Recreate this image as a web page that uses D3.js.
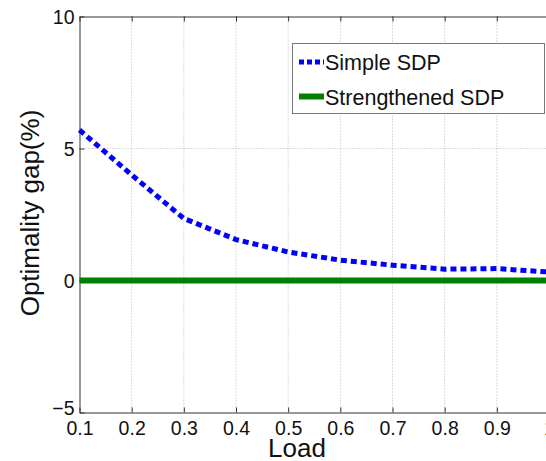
<!DOCTYPE html>
<html>
<head>
<meta charset="utf-8">
<script src="https://cdn.jsdelivr.net/npm/d3@7"></script>
<style>
  html, body { margin: 0; padding: 0; background: #fff; }
  svg { display: block; font-family: "Liberation Sans", Arial, Helvetica, sans-serif; }
</style>
</head>
<body>
<svg id="chart" width="546" height="461"></svg>
<script>
// Load levels and optimality gap (%) for each relaxation
const loads = [0.1, 0.2, 0.3, 0.4, 0.5, 0.6, 0.7, 0.8, 0.9, 1.0];
const simpleSDP = [5.7, 4.0, 2.35, 1.55, 1.08, 0.77, 0.58, 0.43, 0.45, 0.32];
const strengthenedSDP = [0, 0, 0, 0, 0, 0, 0, 0, 0, 0];
const xTicks = [0.1, 0.2, 0.3, 0.4, 0.5, 0.6, 0.7, 0.8, 0.9, 1.0];
const yTicks = [-5, 0, 5, 10];
const seriesNames = ["Simple SDP", "Strengthened SDP"];

const svg = d3.select("#chart");
const margin = { left: 79.5, top: 16.5, right: 549, bottom: 412.5 };

const x = d3.scaleLinear().domain([0.1, 1.0]).range([margin.left, margin.right]);
const y = d3.scaleLinear().domain([-5, 10]).range([margin.bottom, margin.top]);

// dotted grid
const grid = svg.append("g");
grid.selectAll("line.vx").data(xTicks.filter(t => t > 0.1 && t < 1.0)).enter()
  .append("line")
  .attr("x1", d => x(d)).attr("x2", d => x(d))
  .attr("y1", margin.top).attr("y2", margin.bottom)
  .attr("stroke", "#b8b8b8").attr("stroke-width", 1).attr("stroke-dasharray", "1,2");
grid.selectAll("line.hy").data(yTicks.filter(t => t > -5 && t < 10)).enter()
  .append("line")
  .attr("x1", margin.left).attr("x2", margin.right)
  .attr("y1", d => y(d)).attr("y2", d => y(d))
  .attr("stroke", "#b8b8b8").attr("stroke-width", 1).attr("stroke-dasharray", "1,2");

// axes frame with inward ticks
const axisColor = "#333";
const xb = svg.append("g").attr("transform", `translate(0,${margin.bottom})`)
  .call(d3.axisBottom(x).tickValues(xTicks).tickSizeInner(-5).tickSizeOuter(0)
    .tickFormat(d => d === 1 ? "1" : d3.format(".1f")(d)));
const xt = svg.append("g").attr("transform", `translate(0,${margin.top})`)
  .call(d3.axisTop(x).tickValues(xTicks).tickSizeInner(-5).tickSizeOuter(0).tickFormat(""));
const yl = svg.append("g").attr("transform", `translate(${margin.left},0)`)
  .call(d3.axisLeft(y).tickValues(yTicks).tickSizeInner(-5).tickSizeOuter(0).tickPadding(5));
[xb, xt, yl].forEach(g => {
  g.select(".domain").attr("stroke", axisColor).attr("stroke-width", 1);
  g.selectAll(".tick line").attr("stroke", axisColor);
  g.selectAll(".tick text").attr("fill", "#111").attr("font-size", 19.5)
    .attr("font-family", "Liberation Sans, Arial, sans-serif");
});
xb.selectAll(".tick text").attr("y", 22).attr("dy", 0);
yl.selectAll(".tick text").attr("dy", "0.35em");
yl.selectAll(".tick text").filter(d => d === -5).attr("dy", "0.1em");

// series lines
const line = d3.line().x((d, i) => x(loads[i])).y(d => y(d));
svg.append("path").datum(strengthenedSDP)
  .attr("d", line).attr("fill", "none")
  .attr("stroke", "#008000").attr("stroke-width", 6);
svg.append("path").datum(simpleSDP)
  .attr("d", line).attr("fill", "none")
  .attr("stroke", "#0000ff").attr("stroke-width", 5)
  .attr("stroke-dasharray", "6,4");

// axis labels
svg.append("text").attr("x", 297).attr("y", 456.5)
  .attr("text-anchor", "middle").attr("font-size", 26).attr("fill", "#111").text("Load");
svg.append("text")
  .attr("transform", `translate(39,213) rotate(-90)`)
  .attr("text-anchor", "middle").attr("font-size", 26).attr("fill", "#111")
  .text("Optimality gap(%)");

// legend
const lg = svg.append("g");
lg.append("rect").attr("x", 292.5).attr("y", 43.5).attr("width", 252).attr("height", 70)
  .attr("fill", "#fff").attr("stroke", "#777").attr("stroke-width", 1);
const legendStyles = [
  { color: "#0000ff", width: 5, dash: "5,3" },
  { color: "#008000", width: 6, dash: null }
];
seriesNames.forEach((name, i) => {
  const yy = 62 + i * 34.5;
  const l = lg.append("line").attr("x1", 299).attr("x2", 324).attr("y1", yy).attr("y2", yy)
    .attr("stroke", legendStyles[i].color).attr("stroke-width", legendStyles[i].width);
  if (legendStyles[i].dash) l.attr("stroke-dasharray", legendStyles[i].dash);
  lg.append("text").attr("x", 325).attr("y", yy + 8).attr("font-size", 21.5).attr("fill", "#111").text(name);
});
</script>
</body>
</html>
